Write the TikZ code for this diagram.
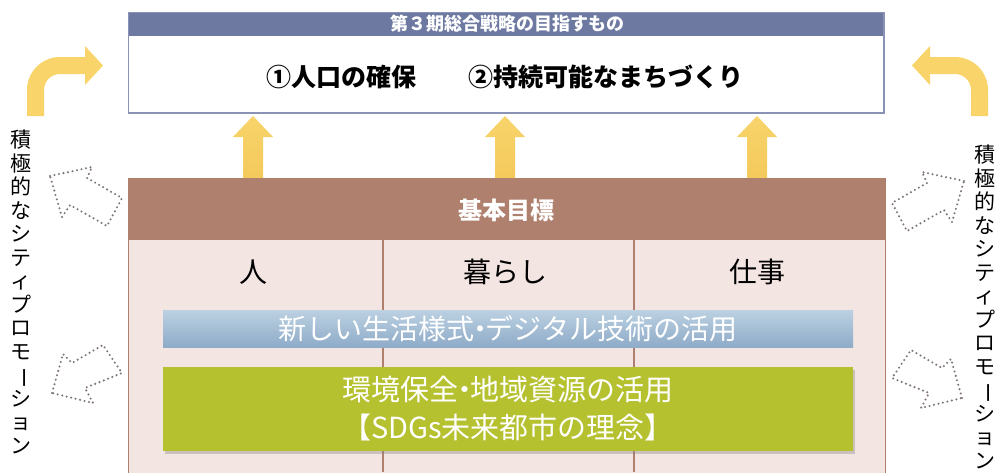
\documentclass[tikz,border=0pt]{standalone}
\usepackage{fontspec}
\usepackage{xcolor}
\usepackage{tikz}
\usetikzlibrary{shadows}
\setmainfont{Noto Sans CJK JP}
\newfontfamily\tatefont{Noto Sans CJK JP}
\newcommand{\nakaten}{\hspace{-0.3em}・\hspace{-0.3em}}
\newcommand{\tatebou}{\rotatebox[origin = c]{-90}{ー}}

\definecolor{GoalBlue}{HTML}{6D79A1}
\definecolor{GoalLine}{HTML}{8A93B5}
\definecolor{KihonBrown}{HTML}{B0806F}
\definecolor{KihonPink}{HTML}{F3E5E2}
\definecolor{BandBlueTop}{HTML}{BCD1E2}
\definecolor{BandBlueBot}{HTML}{8EABC8}
\definecolor{LeafGreen}{HTML}{B5C12F}
\definecolor{ArrowYellow}{HTML}{F8D46B}
\definecolor{ArrowYellowDark}{HTML}{F3C95A}
\definecolor{DotGray}{HTML}{7F7575}

\begin{document}
\begin{tikzpicture}[x = 1pt, y = -1pt,
    dotarrow/.style = {draw = DotGray, line width = 2.3, line cap = round, dash pattern = on 0pt off 4.6pt},
    tatetext/.style = {anchor = north, align = center, inner sep = 0, font = \tatefont\fontsize{21}{23.5}\selectfont}]
  \clip (0,0) rectangle (999,472);
  \fill [fill = white] (0,0) rectangle (999,472);

  % up arrows
  \foreach \x in {253, 505, 757}
    \shade [top color = ArrowYellow, bottom color = ArrowYellowDark]
      (\x,116) -- (\x+20,137) -- (\x+10,137) -- (\x+10,180) -- (\x-10,180) -- (\x-10,137) -- (\x-20,137) -- cycle;

  % top box
  \node [draw = GoalLine, fill = white, line width = 1, minimum width = 755, minimum height = 100,
         anchor = north west, inner sep = 0] (goal) at (128,12) {};
  \fill [fill = GoalBlue] (goal.north west) rectangle ++(755,24);
  \draw [GoalLine, line width = 1] (goal.north west) rectangle (goal.south east);
  \node [text = white, font = \bfseries\fontsize{18}{20}\selectfont] (goaltitle) at (507,24) {第３期総合戦略の目指すもの};
  \node [font = \bfseries\fontsize{25}{28}\selectfont] (goaltext) at (505,77) {①人口の確保\hspace{2.1em}②持続可能なまちづくり};

  % main box
  \node [draw = KihonBrown, fill = KihonPink, line width = 1.4, minimum width = 757, minimum height = 320,
         anchor = north west, inner sep = 0] (kihon) at (128,178) {};
  \fill [fill = KihonBrown] (kihon.north west) rectangle ++(757,62);
  \node [text = white, font = \bfseries\fontsize{24}{26}\selectfont] (kihontitle) at (506,210) {基本目標};
  \foreach \x in {383, 634}
    \draw [KihonBrown, line width = 1.4] (\x,240) -- (\x,472);
  \foreach \x/\t [count = \i] in {253/人, 505/暮らし, 757/仕事}
    \node [font = \fontsize{28}{30}\selectfont] (col\i) at (\x,272) {\t};

  \node [top color = BandBlueTop, bottom color = BandBlueBot, minimum width = 690, minimum height = 37,
         inner sep = 0, text = white, font = \fontsize{28}{30}\selectfont] (digital) at (508,328.5)
    {新しい生活様式\nakaten デジタル技術の活用};
  \node [fill = LeafGreen, minimum width = 690, minimum height = 84, inner sep = 0, align = center,
         drop shadow = {shadow xshift = 1.5pt, shadow yshift = -3pt, opacity = 0.35},
         text = white, font = \fontsize{29}{38}\selectfont] (sdgs) at (508,409)
    {環境保全\nakaten 地域資源の活用\\【SDGs未来都市の理念】};

  % bent arrows
  \foreach \s/\o in {1/0, -1/1015}
  {\begin{scope}[xshift = \o, xscale = \s]
    \fill [fill = ArrowYellow] (27,116) -- (27,90) arc [start angle = 180, end angle = 270, radius = 33]
      -- (85,57) -- (85,46) -- (103,65.5) -- (85,85) -- (85,74) -- (60,74)
      arc [start angle = 270, end angle = 180, radius = 16] -- (44,116) -- cycle;
  \end{scope}}

  % dotted arrows
  \foreach \s/\o/\d in {1/0/0, -1/1014/-5}
  {\begin{scope}[xshift = \o, xscale = \s, yshift = \d]
    \draw [dotarrow] (50,176) -- (92,167) -- (87,178) -- (122,198) -- (107,226) -- (70,205) -- (62,217) -- cycle;
    \draw [dotarrow] (52,393) -- (63,354) -- (72,363) -- (103,345) -- (122,373) -- (85,388) -- (93,403) -- cycle;
  \end{scope}}

  % city promotion
  \node [tatetext] (promoL) at (21,130) {積\\極\\的\\な\\シ\\テ\\ィ\\プ\\ロ\\モ\\\tatebou\\シ\\ョ\\ン};
  \node [tatetext] (promoR) at (985,145) {積\\極\\的\\な\\シ\\テ\\ィ\\プ\\ロ\\モ\\\tatebou\\シ\\ョ\\ン};
\end{tikzpicture}
\end{document}
